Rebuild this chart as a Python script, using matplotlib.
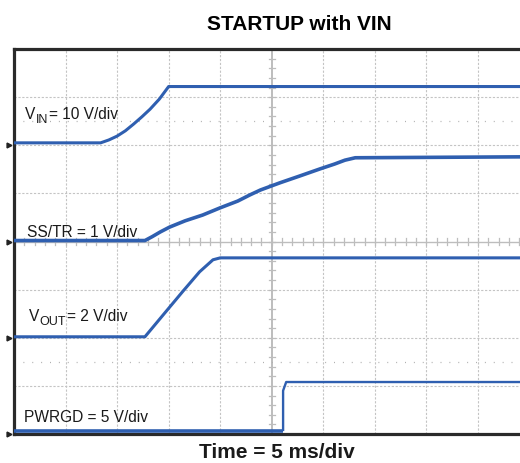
import numpy as np
import matplotlib
matplotlib.use("Agg")
import matplotlib.pyplot as plt
from matplotlib.transforms import offset_copy

plt.rcParams['font.family'] = ['Liberation Sans', 'DejaVu Sans']

# scope screen: 5 ms/div horizontally, 8 divisions vertically
MS_PER_DIV = 5
N_XDIV = 10
N_YDIV = 8

# traces: time in ms, level in divisions from bottom
vin_t = [0.0, 8.4, 9.2, 10.0, 10.8, 11.6, 12.4, 13.2, 14.1, 15.0, 50.0]
vin_y = [6.05, 6.05, 6.11, 6.19, 6.30, 6.44, 6.59, 6.75, 6.96, 7.22, 7.22]

ss_t = [0.0, 12.7, 13.4, 14.2, 15.1, 16.6, 18.3, 20.0, 21.7, 22.9,
        23.9, 25.8, 27.7, 29.7, 31.1, 32.1, 33.1, 50.0]
ss_y = [4.02, 4.02, 4.10, 4.20, 4.30, 4.43, 4.55, 4.70, 4.84, 4.97,
        5.07, 5.22, 5.36, 5.51, 5.61, 5.69, 5.74, 5.76]

vout_t = [0.0, 12.7, 14.8, 16.4, 18.0, 19.3, 20.0, 50.0]
vout_y = [2.02, 2.02, 2.56, 2.97, 3.37, 3.62, 3.66, 3.66]

pg_low_t = [0.0, 26.1]
pg_low_y = [0.06, 0.06]
pg_high_t = [26.1, 26.1, 26.4, 50.0]
pg_high_y = [0.06, 0.90, 1.08, 1.08]

ground_div = [6, 4, 2, 0]

# (x ms, baseline div, main, subscript, rest)
labels = [
    (1.05, 6.57, "V", "IN", "= 10 V/div"),
    (1.25, 4.11, "SS/TR = 1 V/div", "", ""),
    (1.45, 2.37, "V", "OUT", "= 2 V/div"),
    (0.95, 0.27, "PWRGD = 5 V/div", "", ""),
]

BLUE = '#2f5fb0'
GRID = '#c4c4c4'
TXT = '#1a1a1a'

W, H = 520, 464
fig = plt.figure(figsize=(W / 100, H / 100), dpi=100)
# right edge of the screen is cut off in the original
ax = fig.add_axes([14 / W, 29 / H, 515.5 / W, 385 / H])
ax.set_xlim(0, N_XDIV * MS_PER_DIV)
ax.set_ylim(0, N_YDIV)
ax.set_xticks([])
ax.set_yticks([])

# graticule
for i in range(1, N_XDIV):
    if i == N_XDIV // 2:
        continue
    ax.axvline(i * MS_PER_DIV, color=GRID, lw=0.8, ls=(0, (2, 1.5)), zorder=1)
for j in range(1, N_YDIV):
    if j == N_YDIV // 2:
        continue
    ax.axhline(j, color=GRID, lw=0.8, ls=(0, (2, 1.5)), zorder=1)
ax.axvline(N_XDIV // 2 * MS_PER_DIV, color='#bdbdbd', lw=1.4, zorder=1)
ax.axhline(N_YDIV // 2, color='#bdbdbd', lw=1.0, zorder=1)
for yy in (1.5, 6.5):
    ax.axhline(yy, color='#b0b0b0', lw=0.9, ls=(0, (0.8, 6.3)), zorder=1)

# minor ticks on the centre lines
cx = N_XDIV // 2 * MS_PER_DIV
for k in np.arange(0, N_YDIV + 0.01, 0.2):
    ax.plot([cx - 0.3, cx + 0.3], [k, k], color='#bdbdbd', lw=0.9, zorder=1)
for k in np.arange(0, N_XDIV * MS_PER_DIV + 0.01, 1.0):
    ax.plot([k, k], [N_YDIV / 2 - 0.07, N_YDIV / 2 + 0.07], color='#bdbdbd', lw=0.9, zorder=1)

# traces
ax.plot(vin_t, vin_y, color=BLUE, lw=2.2, zorder=3, solid_capstyle='butt')
ax.plot(ss_t, ss_y, color=BLUE, lw=2.6, zorder=3, solid_capstyle='butt')
ax.plot(vout_t, vout_y, color=BLUE, lw=2.2, zorder=3, solid_capstyle='butt')
ax.plot(pg_low_t, pg_low_y, color=BLUE, lw=2.6, zorder=3, solid_capstyle='butt')
ax.plot(pg_high_t, pg_high_y, color=BLUE, lw=1.7, zorder=3, solid_capstyle='butt')

# channel ground markers
for g in ground_div:
    ax.plot([-0.45], [g], marker='>', ms=3.5, color='#222222', clip_on=False, zorder=5)

# channel labels, subscripts set by hand so they stay large like the original
fig.canvas.draw()
renderer = fig.canvas.get_renderer()
for x, y, main, sub, rest in labels:
    t = ax.text(x, y, main, fontsize=11.2, color=TXT, va='baseline', ha='left', zorder=4)
    if not sub:
        continue
    w = t.get_window_extent(renderer).width * 72 / fig.dpi
    tr = offset_copy(ax.transData, fig=fig, x=w + 0.3, y=-3.0, units='points')
    s = ax.text(x, y, sub, fontsize=9, color=TXT, va='baseline', ha='left',
                transform=tr, zorder=4)
    w2 = s.get_window_extent(renderer).width * 72 / fig.dpi
    tr2 = offset_copy(ax.transData, fig=fig, x=w + w2 + 1.0, y=0, units='points')
    ax.text(x, y, rest, fontsize=11.2, color=TXT, va='baseline', ha='left',
            transform=tr2, zorder=4)

for side in ('left', 'top', 'bottom'):
    ax.spines[side].set_linewidth(2.3)
    ax.spines[side].set_color('#2a2a2a')
ax.spines['right'].set_visible(False)

fig.text(299 / W, 1 - 30 / H, "STARTUP with VIN", fontsize=15, fontweight='bold',
         ha='center', va='baseline')
fig.text(277 / W, 1 - 458 / H, "Time = 5 ms/div", fontsize=15, fontweight='bold',
         ha='center', va='baseline', color=TXT)

fig.savefig("out.png", dpi=100)
